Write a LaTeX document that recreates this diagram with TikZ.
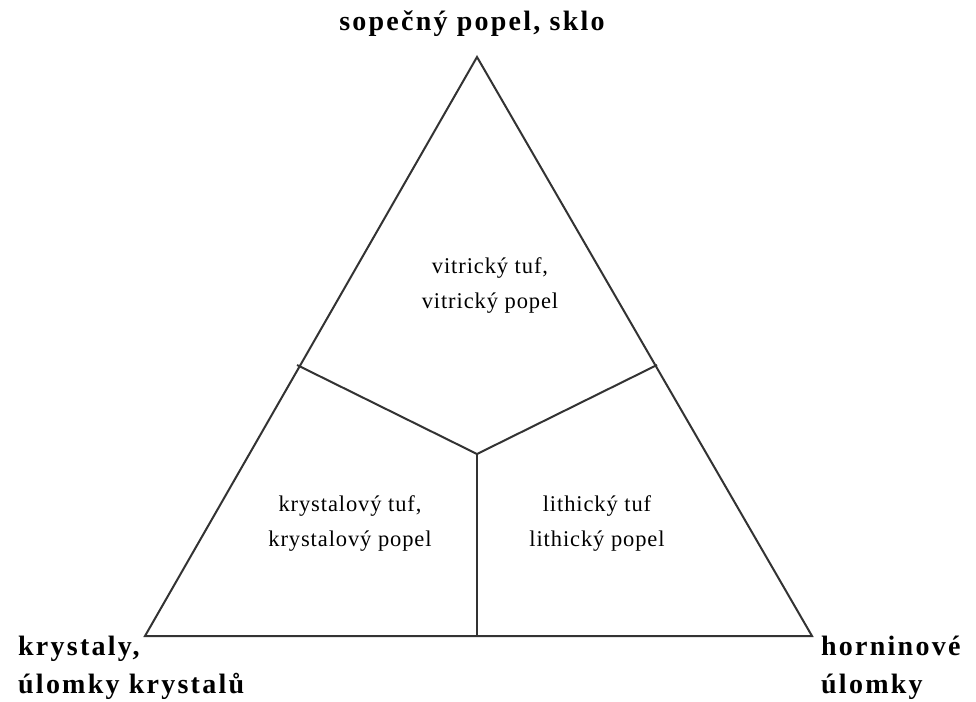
\documentclass[tikz,border=0pt]{standalone}
\usepackage{fontspec}
\setmainfont{Liberation Serif}
\begin{document}
\begin{tikzpicture}[x=1pt,y=-1pt,
  edge/.style={draw=black!80,line width=2pt},
  corner/.style={font=\bfseries\fontsize{28}{37}\selectfont\addfontfeature{LetterSpace=8},inner sep=0pt,align=left},
  field/.style={font=\fontsize{22.5}{35}\selectfont\addfontfeature{LetterSpace=4},inner sep=0pt,align=center}]
\useasboundingbox[fill=white] (0,0) rectangle (976,701);
\coordinate (T) at (477,57);
\coordinate (L) at (145,636);
\coordinate (R) at (812,636);
\coordinate (C) at (477,454);
\coordinate (ML) at (297,365);
\coordinate (MR) at (657,365);
\coordinate (MB) at (477,636);
\draw[edge,line join=miter] (T) -- (L) -- (R) -- cycle;
\draw[edge] (ML) -- (C) -- (MR);
\draw[edge] (C) -- (MB);
\node[corner,anchor=base] (top) at (472,31) {sopečný popel, sklo};
\node[corner,anchor=base west] (kr1) at (18,655) {krystaly,};
\node[corner,anchor=base west] (kr2) at (18,693) {úlomky krystalů};
\node[corner,anchor=base west] (ho1) at (821,655) {horninové};
\node[corner,anchor=base west] (ho2) at (821,693) {úlomky};
\node[field] (vit) at (490,286) {vitrický tuf,\\vitrický popel};
\node[field] (kry) at (350,523) {krystalový tuf,\\krystalový popel};
\node[field] (lit) at (597,523) {lithický tuf\\lithický popel};
\end{tikzpicture}
\end{document}
